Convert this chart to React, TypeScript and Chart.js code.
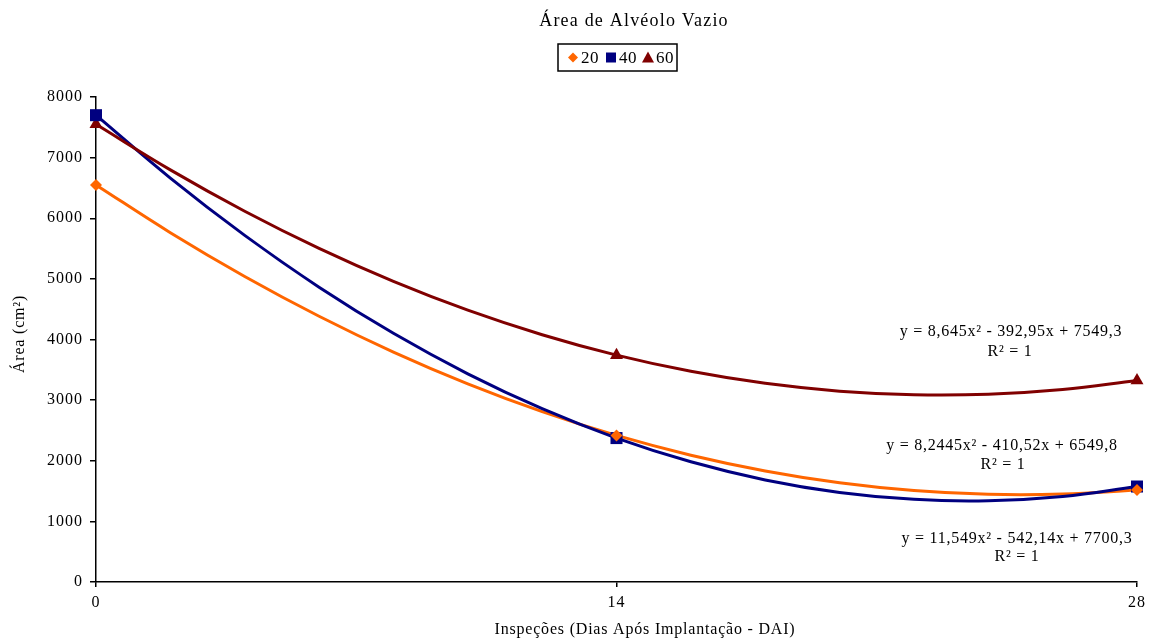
import React, { useEffect, useRef } from "react";
import { Chart, registerables } from "chart.js";

Chart.register(...registerables);

const TITLE = "Área de Alvéolo Vazio";
const X_TITLE = "Inspeções (Dias Após Implantação - DAI)";
const Y_TITLE = "Área (cm²)";
const SERIES_NAMES = ["20", "40", "60"];
const COLORS = ["#FF6600", "#000080", "#800000"];

// Observed points
const INSPECTION_DAYS = [0, 14, 28];
const VALUES_20 = [6550, 2418, 1519];
const VALUES_40 = [7700, 2374, 1575];
const VALUES_60 = [7549, 3742, 3324];

// Trendline curves
const TREND_DAYS = [0, 2, 4, 6, 8, 10, 12, 14, 16, 18, 20, 22, 24, 26, 28];
const TREND_20 = [6550, 5762, 5040, 4384, 3793, 3269, 2811, 2418, 2092, 1832, 1637, 1509, 1446, 1450, 1519];
const TREND_40 = [7700, 6662, 5717, 4863, 4102, 3434, 2858, 2374, 1983, 1684, 1477, 1363, 1341, 1412, 1575];
const TREND_60 = [7549, 6798, 6116, 5503, 4959, 4484, 4079, 3742, 3475, 3277, 3148, 3089, 3098, 3177, 3324];

const EQUATIONS = [
  "y = 8,645x² - 392,95x + 7549,3",
  "y = 8,2445x² - 410,52x + 6549,8",
  "y = 11,549x² - 542,14x + 7700,3",
];

const X_TICKS = [0, 14, 28];
const Y_MIN = 0;
const Y_MAX = 8000;
const Y_STEP = 1000;

const FONT = "'Liberation Serif', 'Times New Roman', serif";

const toXY = (xs: number[], ys: number[]) => xs.map((x, i) => ({ x, y: ys[i] }));

const spacingPlugin = {
  id: "spacing",
  beforeDraw(chart: any) {
    (chart.ctx as any).letterSpacing = "1px";
  },
};

const textPlugin = {
  id: "texts",
  afterDraw(chart: any) {
    const ctx = chart.ctx as any;
    ctx.save();
    ctx.fillStyle = "#000";
    ctx.textBaseline = "middle";
    ctx.textAlign = "center";
    // title
    ctx.letterSpacing = "1.2px";
    ctx.font = `18px ${FONT}`;
    ctx.fillText(TITLE, 634, 21);
    // legend box
    const lx = 558, ly = 44, lw = 119, lh = 27;
    ctx.strokeStyle = "#000";
    ctx.lineWidth = 1.5;
    ctx.strokeRect(lx, ly, lw, lh);
    ctx.letterSpacing = "0.5px";
    ctx.font = `17px ${FONT}`;
    ctx.textAlign = "left";
    const cy = ly + lh / 2;
    const items = [
      { style: "diamond", x: 573 },
      { style: "rect", x: 611 },
      { style: "tri", x: 648 },
    ];
    items.forEach((it, i) => {
      ctx.fillStyle = COLORS[i];
      ctx.beginPath();
      if (it.style === "diamond") {
        ctx.moveTo(it.x, cy - 5);
        ctx.lineTo(it.x + 5, cy);
        ctx.lineTo(it.x, cy + 5);
        ctx.lineTo(it.x - 5, cy);
      } else if (it.style === "rect") {
        ctx.rect(it.x - 5, cy - 5, 10, 10);
      } else {
        ctx.moveTo(it.x, cy - 6);
        ctx.lineTo(it.x + 6, cy + 5);
        ctx.lineTo(it.x - 6, cy + 5);
      }
      ctx.closePath();
      ctx.fill();
      ctx.fillStyle = "#000";
      ctx.fillText(SERIES_NAMES[i], it.x + 8, cy + 1);
    });
    // axis titles
    ctx.textAlign = "center";
    ctx.letterSpacing = "0.8px";
    ctx.font = `16px ${FONT}`;
    ctx.fillText(X_TITLE, 645, 630);
    ctx.save();
    ctx.translate(20, 334);
    ctx.rotate(-Math.PI / 2);
    ctx.fillText(Y_TITLE, 0, 0);
    ctx.restore();
    // equations
    ctx.letterSpacing = "0.75px";
    ctx.font = `16px ${FONT}`;
    const eqPos = [
      [1011, 332, 1010, 352],
      [1002, 446, 1003, 465],
      [1017, 539, 1017, 557],
    ];
    EQUATIONS.forEach((eq, i) => {
      const p = eqPos[i];
      ctx.fillText(eq, p[0], p[1]);
      ctx.fillText("R² = 1", p[2], p[3]);
    });
    ctx.restore();
  },
};

export default function App() {
  const ref = useRef<HTMLCanvasElement | null>(null);
  useEffect(() => {
    if (!ref.current) return;
    const trends = [TREND_20, TREND_40, TREND_60];
    const vals = [VALUES_20, VALUES_40, VALUES_60];
    const styles = ["rectRot", "rect", "triangle"];
    const radii = [6, 8.5, 7.5];
    const datasets: any[] = [];
    trends.forEach((t, i) => {
      datasets.push({
        label: "trend " + SERIES_NAMES[i],
        data: toXY(TREND_DAYS, t),
        borderColor: COLORS[i],
        borderWidth: 3,
        pointRadius: 0,
        showLine: true,
        tension: 0.4,
        fill: false,
        clip: false,
        order: 10 - i,
      });
    });
    vals.forEach((v, i) => {
      datasets.push({
        label: SERIES_NAMES[i],
        data: toXY(INSPECTION_DAYS, v),
        borderColor: COLORS[i],
        backgroundColor: COLORS[i],
        borderWidth: 0,
        pointStyle: styles[i],
        pointRadius: radii[i],
        showLine: false,
        clip: false,
        order: i,
      });
    });
    const chart = new Chart(ref.current, {
      type: "scatter",
      data: { datasets },
      options: {
        animation: false,
        responsive: false,
        layout: { padding: { top: 97, right: 18, left: 0, bottom: 0 } },
        plugins: { legend: { display: false }, title: { display: false }, tooltip: { enabled: false } },
        scales: {
          x: {
            type: "linear",
            min: 0,
            max: 28,
            afterBuildTicks: (s: any) => {
              s.ticks = X_TICKS.map((v) => ({ value: v }));
            },
            afterFit: (s: any) => {
              s.height = 57;
            },
            ticks: { color: "#000", font: { family: FONT, size: 16 }, padding: 6, maxRotation: 0, callback: (v: any) => String(v) },
            grid: { display: true, drawOnChartArea: false, drawTicks: true, tickLength: 5, color: "#000", lineWidth: 1.5 },
            border: { display: true, color: "#000", width: 1.5 },
          },
          y: {
            type: "linear",
            min: Y_MIN,
            max: Y_MAX,
            afterFit: (s: any) => {
              s.width = 96;
            },
            ticks: { stepSize: Y_STEP, color: "#000", font: { family: FONT, size: 16 }, padding: 7, callback: (v: any) => String(v) },
            grid: { display: true, drawOnChartArea: false, drawTicks: true, tickLength: 6, color: "#000", lineWidth: 1.5 },
            border: { display: true, color: "#000", width: 1.5 },
          },
        },
      },
      plugins: [spacingPlugin, textPlugin],
    });
    return () => chart.destroy();
  }, []);
  return (
    <div style={{ position: "absolute", left: 0, top: 0, width: 1155, height: 639, background: "#fff" }}>
      <canvas ref={ref} width={1155} height={639} />
    </div>
  );
}
